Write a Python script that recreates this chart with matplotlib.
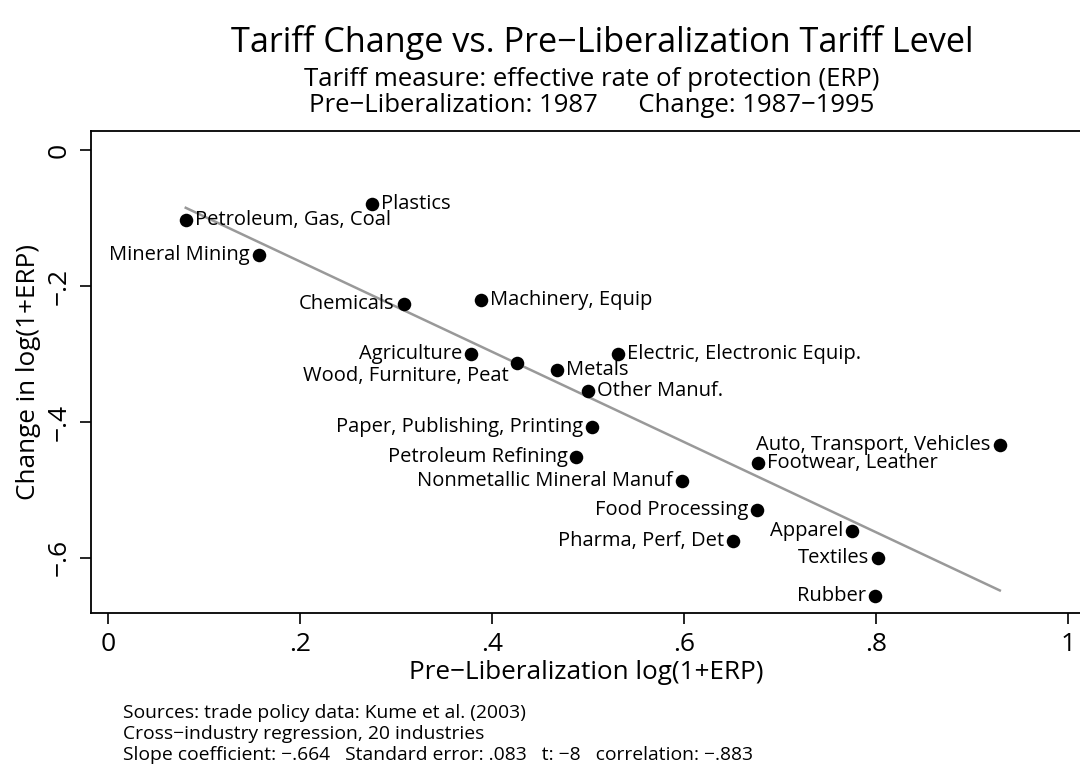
import numpy as np
import matplotlib
matplotlib.use('Agg')
import matplotlib.pyplot as plt

plt.rcParams['font.family'] = ['Open Sans', 'DejaVu Sans']

# Industry data
industries = ['Petroleum, Gas, Coal', 'Plastics', 'Mineral Mining', 'Chemicals',
              'Machinery, Equip', 'Agriculture', 'Wood, Furniture, Peat', 'Metals',
              'Electric, Electronic Equip.', 'Other Manuf.', 'Paper, Publishing, Printing',
              'Petroleum Refining', 'Nonmetallic Mineral Manuf', 'Auto, Transport, Vehicles',
              'Footwear, Leather', 'Food Processing', 'Pharma, Perf, Det', 'Apparel',
              'Textiles', 'Rubber']
pre_erp = [0.081, 0.275, 0.157, 0.308, 0.389, 0.378, 0.426, 0.468, 0.531, 0.500,
           0.504, 0.488, 0.598, 0.929, 0.677, 0.676, 0.651, 0.775, 0.802, 0.799]
chg_erp = [-0.103, -0.079, -0.154, -0.226, -0.221, -0.300, -0.313, -0.324, -0.300, -0.354,
           -0.408, -0.451, -0.487, -0.434, -0.461, -0.529, -0.575, -0.560, -0.600, -0.656]
# label side: 'r' right of marker, 'l' left of marker, 'll' lower left
label_pos = ['r', 'r', 'l', 'l', 'r', 'l', 'll', 'r', 'r', 'r',
             'l', 'l', 'l', 'l', 'r', 'l', 'l', 'l', 'l', 'l']

x_ticks = [0, 0.2, 0.4, 0.6, 0.8, 1.0]
x_labels = ['0', '.2', '.4', '.6', '.8', '1']
y_ticks = [0, -0.2, -0.4, -0.6]
y_labels = ['0', '\u2212.2', '\u2212.4', '\u2212.6']

W, H = 1080, 771
fig = plt.figure(figsize=(W / 100, H / 100), dpi=100)
ax = fig.add_axes([91 / W, 1 - 613 / H, (1082 - 91) / W, (613 - 131) / H])

x = np.array(pre_erp)
y = np.array(chg_erp)

# fitted regression line
slope, intercept = np.polyfit(x, y, 1)
xs = np.array([x.min(), x.max()])
ax.plot(xs, intercept + slope * xs, color='#999999', lw=1.8, zorder=1)

ax.scatter(x, y, s=95, color='black', zorder=2, linewidths=0)

for name, xi, yi, pos in zip(industries, pre_erp, chg_erp, label_pos):
    if pos == 'r':
        off, ha, va = (9, 0), 'left', 'center'
    elif pos == 'l':
        off, ha, va = (-9, 0), 'right', 'center'
    else:
        off, ha, va = (-8, -13), 'right', 'center'
    ax.annotate(name, (xi, yi), xytext=off, textcoords='offset pixels',
                ha=ha, va=va, fontsize=14.5)

ax.set_xlim(-0.0177, 1.0146)
ax.set_ylim(-0.681, 0.028)
ax.set_xticks(x_ticks)
ax.set_xticklabels(x_labels, fontsize=19)
ax.set_yticks(y_ticks)
ax.set_yticklabels(y_labels, fontsize=19, rotation=90, va='center')
ax.tick_params(direction='out', length=8, width=1.2, pad=6)
for s in ax.spines.values():
    s.set_linewidth(1.3)

ax.set_xlabel('Pre\u2212Liberalization log(1+ERP)', fontsize=18.8, labelpad=2)
ax.set_ylabel('Change in log(1+ERP)', fontsize=18.8, labelpad=4)

fig.text(602 / W, 1 - 42 / H, 'Tariff Change vs. Pre\u2212Liberalization Tariff Level',
         ha='center', va='center', fontsize=24.7)
fig.text(592 / W, 1 - 79 / H, 'Tariff measure: effective rate of protection (ERP)',
         ha='center', va='center', fontsize=18.5)
fig.text(592 / W, 1 - 106 / H, 'Pre\u2212Liberalization: 1987      Change: 1987\u22121995',
         ha='center', va='center', fontsize=18.5)

notes = ['Sources: trade policy data: Kume et al. (2003)',
         'Cross\u2212industry regression, 20 industries',
         'Slope coefficient: \u2212.664   Standard error: .083   t: \u22128   correlation: \u2212.883']
for i, line in enumerate(notes):
    fig.text(123 / W, 1 - (713 + 21 * i) / H, line, ha='left', va='center', fontsize=13.9)

fig.savefig('out.png', dpi=100)
